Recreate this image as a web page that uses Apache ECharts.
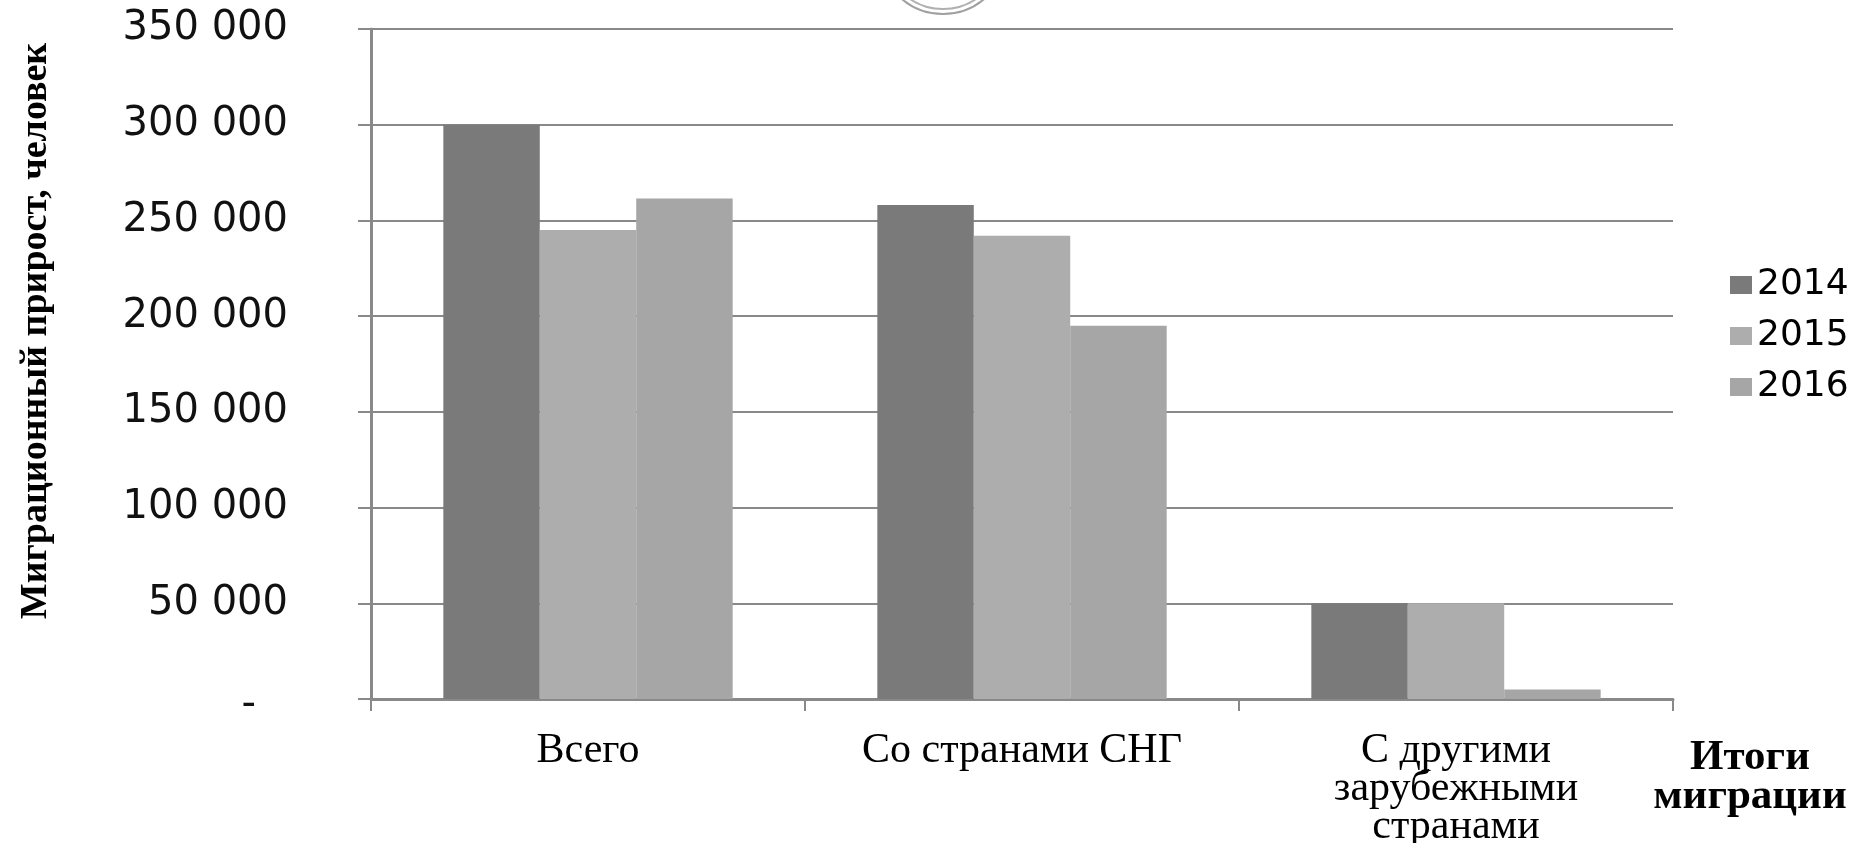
<!DOCTYPE html>
<html>
<head>
<meta charset="utf-8">
<script src="https://cdn.jsdelivr.net/npm/echarts@6/dist/echarts.min.js"></script>
<style>
  html, body { margin: 0; padding: 0; background: #ffffff; }
  #chart { width: 1857px; height: 843px; }
</style>
</head>
<body>
<div id="chart"></div>
<script>
// ---- data ----
const categories = ['Всего', 'Со странами СНГ', 'С другими\nзарубежными\nстранами'];
const seriesNames = ['2014', '2015', '2016'];
const values2014 = [300000, 258000, 50000];
const values2015 = [245000, 242000, 50000];
const values2016 = [261500, 195000, 5000];
const yMin = 0;
const yMax = 350000;
const yStep = 50000;
const yAxisTitle = 'Миграционный прирост, человек';
const xAxisTitle = 'Итоги\nмиграции';

const colors = ['#7a7a7a', '#adadad', '#a6a6a6'];
const gridColor = '#898989';

function fmt(v) {
  if (v === 0) return '{z|-}';
  return String(v).replace(/\B(?=(\d{3})+(?!\d))/g, ' ');
}

const chart = echarts.init(document.getElementById('chart'), null, { renderer: 'canvas' });

const valueSets = [values2014, values2015, values2016];

chart.setOption({
  animation: false,
  backgroundColor: '#ffffff',
  color: colors,
  grid: { left: 371, right: 184, top: 29, bottom: 144, containLabel: false, outerBoundsMode: 'none' },
  legend: {
    orient: 'vertical',
    left: 1725,
    top: 262,
    icon: 'rect',
    itemWidth: 22,
    itemHeight: 18,
    itemGap: 15,
    textStyle: { fontFamily: 'DejaVu Sans', fontSize: 36, color: '#000' },
    data: seriesNames
  },
  xAxis: {
    type: 'category',
    data: categories,
    name: xAxisTitle,
    nameLocation: 'end',
    nameGap: 77,
    nameTextStyle: {
      fontFamily: 'Liberation Serif', fontWeight: 'bold', fontSize: 43, color: '#000',
      align: 'center', verticalAlign: 'top', lineHeight: 39, padding: [39, 0, 0, 0]
    },
    axisLine: { show: true, lineStyle: { color: gridColor, width: 3 } },
    axisTick: { show: true, length: 12, lineStyle: { color: gridColor, width: 2 } },
    axisLabel: {
      interval: 0, margin: 33,
      fontFamily: 'Liberation Serif', fontSize: 42, lineHeight: 38, color: '#000'
    },
    splitLine: { show: false }
  },
  yAxis: {
    type: 'value',
    min: yMin, max: yMax, interval: yStep,
    name: yAxisTitle,
    nameLocation: 'middle',
    nameRotate: 90,
    nameGap: 316,
    nameTextStyle: {
      fontFamily: 'Liberation Serif', fontWeight: 'bold', fontSize: 38, color: '#000',
      padding: [0, 0, 0, 66]
    },
    axisLine: { show: true, lineStyle: { color: gridColor, width: 3 } },
    axisTick: { show: true, length: 13, lineStyle: { color: gridColor, width: 2 } },
    axisLabel: {
      margin: 83,
      fontFamily: 'DejaVu Sans', fontSize: 40, color: '#111',
      formatter: fmt,
      rich: { z: { fontFamily: 'DejaVu Sans', fontSize: 40, color: '#111', padding: [14, 32, 0, 0] } }
    },
    splitLine: { show: true, lineStyle: { color: gridColor, width: 2 } }
  },
  series: seriesNames.map((name, i) => ({
    name: name,
    type: 'bar',
    data: valueSets[i],
    barGap: '0%',
    barCategoryGap: '33.33%',
    itemStyle: { color: colors[i] }
  })),
  graphic: [
    { type: 'circle', silent: true, shape: { cx: 943, cy: -50, r: 64 },
      style: { fill: 'none', stroke: '#a0a0a0', lineWidth: 2 } },
    { type: 'circle', silent: true, shape: { cx: 943, cy: -50, r: 59 },
      style: { fill: 'none', stroke: '#b0b0b0', lineWidth: 2 } }
  ]
});
</script>
</body>
</html>
